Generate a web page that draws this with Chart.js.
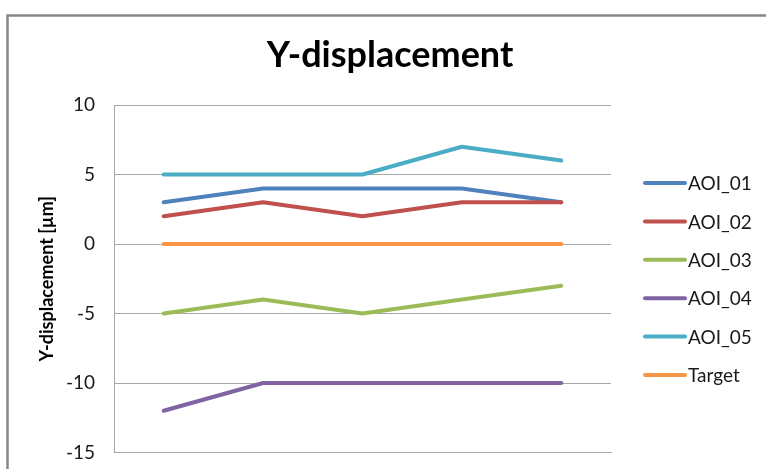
<!DOCTYPE html>
<html>
<head>
<meta charset="utf-8">
<script src="https://cdn.jsdelivr.net/npm/chart.js@4/dist/chart.umd.min.js"></script>
<style>
  html, body { margin: 0; padding: 0; background: #fff; }
  #wrap { width: 766px; height: 469px; position: relative; }
</style>
</head>
<body>
<div id="wrap"><canvas id="chart" width="766" height="469"></canvas></div>
<script>
// Y-displacement per AOI over five measurement runs
const RUNS    = ['1', '2', '3', '4', '5'];
const AOI_01  = [3, 4, 4, 4, 3];
const AOI_02  = [2, 3, 2, 3, 3];
const AOI_03  = [-5, -4, -5, -4, -3];
const AOI_04  = [-12, -10, -10, -10, -10];
const AOI_05  = [5, 5, 5, 7, 6];
const TARGET  = [0, 0, 0, 0, 0];
const Y_MIN = -15, Y_MAX = 10, Y_STEP = 5;

const FONT = 'Lato, "Open Sans", sans-serif';
const GRID = '#a8a8a8';

const series = [
  { label: 'AOI_01', data: AOI_01, color: '#4F81BD' },
  { label: 'AOI_02', data: AOI_02, color: '#C0504D' },
  { label: 'AOI_03', data: AOI_03, color: '#9BBB59' },
  { label: 'AOI_04', data: AOI_04, color: '#8064A2' },
  { label: 'AOI_05', data: AOI_05, color: '#4BACC6' },
  { label: 'Target', data: TARGET, color: '#F79646' },
];

// outer frame, title and the right-hand legend
const decor = {
  id: 'decor',
  beforeDraw(chart) {
    const c = chart.ctx;
    c.save();
    c.strokeStyle = '#878787';
    c.lineWidth = 2.5;
    c.strokeRect(7.5, 15.5, 900, 600);
    c.restore();
  },
  afterDraw(chart) {
    const c = chart.ctx;
    c.save();
    c.fillStyle = '#000';
    c.font = 'bold 36px ' + FONT;
    c.textAlign = 'center';
    c.textBaseline = 'alphabetic';
    c.fillText('Y-displacement', 390, 67);

    c.font = '19px ' + FONT;
    c.textAlign = 'left';
    c.textBaseline = 'middle';
    c.lineCap = 'round';
    chart.data.datasets.forEach((ds, i) => {
      const y = 183 + i * 38.4;
      c.strokeStyle = ds.borderColor;
      c.lineWidth = 4;
      c.beginPath();
      c.moveTo(645, y);
      c.lineTo(685, y);
      c.stroke();
      c.fillStyle = '#1a1a1a';
      c.fillText(ds.label, 688, y + 1);
    });
    c.restore();
  }
};

new Chart(document.getElementById('chart'), {
  type: 'line',
  data: {
    labels: RUNS,
    datasets: series.map((s, i) => ({
      label: s.label,
      data: s.data,
      borderColor: s.color,
      backgroundColor: s.color,
      borderWidth: 4,
      borderCapStyle: 'round',
      borderJoinStyle: 'round',
      pointRadius: 0,
      tension: 0,
      order: series.length - i,
    }))
  },
  options: {
    responsive: false,
    animation: false,
    layout: { padding: { left: 0, right: 155, top: 105, bottom: 0 } },
    plugins: {
      legend: { display: false },
      title: { display: false },
      tooltip: { enabled: false }
    },
    scales: {
      x: {
        offset: true,
        grid: { display: false },
        border: { display: true, color: GRID, width: 1 },
        ticks: { display: false },
        afterFit: s => { s.height = 16.5; }
      },
      y: {
        min: Y_MIN,
        max: Y_MAX,
        grid: { color: GRID, lineWidth: 1, drawTicks: false },
        border: { display: true, color: GRID, width: 1 },
        ticks: {
          stepSize: Y_STEP,
          padding: 19,
          color: '#1a1a1a',
          font: { family: FONT, size: 19 }
        },
        title: {
          display: true,
          text: 'Y-displacement [µm]',
          color: '#000',
          font: { family: FONT, size: 18, weight: 'bold' },
          padding: { top: 36, bottom: 0 }
        },
        // fixed axis width; let the x axis own the space below the plot
        afterFit: s => { s.width = 114; s.paddingBottom = 0; s.paddingTop = 0; }
      }
    }
  },
  plugins: [decor]
});
</script>
</body>
</html>
